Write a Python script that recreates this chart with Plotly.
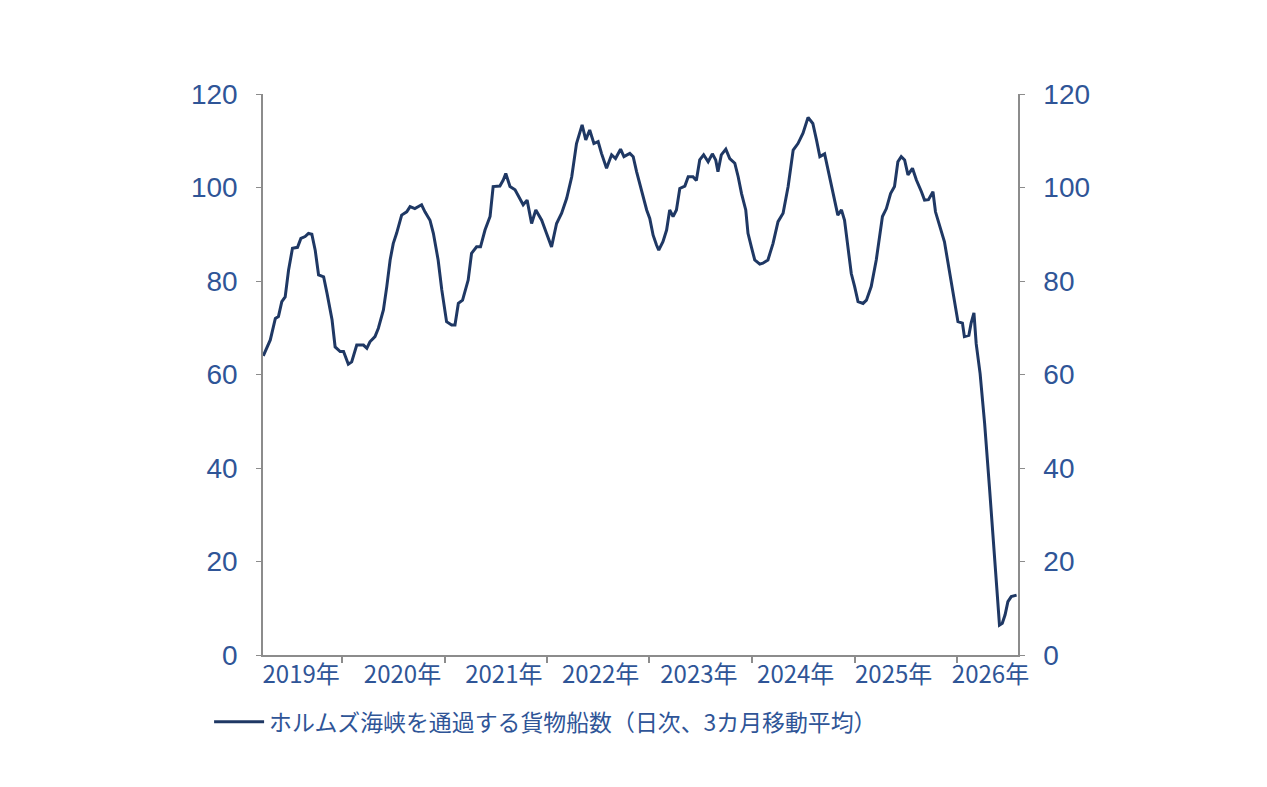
import plotly.graph_objects as go

# ホルムズ海峡を通過する貨物船数（日次、3カ月移動平均）
dates = [
    "2019-03-27", "2019-04-21", "2019-05-09", "2019-05-20", "2019-06-01", "2019-06-13",
    "2019-06-25", "2019-07-09", "2019-07-27", "2019-08-08", "2019-08-23", "2019-09-04",
    "2019-09-16", "2019-09-28", "2019-10-10", "2019-10-28", "2019-11-09", "2019-11-27",
    "2019-12-08", "2019-12-26", "2020-01-07", "2020-01-24", "2020-02-05", "2020-02-23",
    "2020-03-18", "2020-03-30", "2020-04-10", "2020-04-28", "2020-05-10", "2020-05-28",
    "2020-06-09", "2020-06-21", "2020-07-02", "2020-07-14", "2020-08-01", "2020-08-19",
    "2020-08-31", "2020-09-17", "2020-10-11", "2020-10-23", "2020-11-10", "2020-11-22",
    "2020-12-09", "2020-12-22", "2021-01-08", "2021-01-26", "2021-02-07", "2021-02-19",
    "2021-03-06", "2021-03-26", "2021-04-07", "2021-04-25", "2021-05-09", "2021-05-25",
    "2021-06-12", "2021-06-23", "2021-07-17", "2021-07-29", "2021-08-07", "2021-08-22",
    "2021-09-09", "2021-09-27", "2021-10-08", "2021-10-22", "2021-11-07", "2021-11-22",
    "2021-12-13", "2021-12-30", "2022-01-17", "2022-02-04", "2022-02-22", "2022-03-12",
    "2022-03-30", "2022-04-16", "2022-05-06", "2022-05-19", "2022-06-02", "2022-06-17",
    "2022-07-02", "2022-07-14", "2022-08-01", "2022-08-19", "2022-09-02", "2022-09-20",
    "2022-10-02", "2022-10-23", "2022-11-04", "2022-11-16", "2022-12-04", "2022-12-22",
    "2023-01-02", "2023-01-14", "2023-01-26", "2023-02-03", "2023-02-18", "2023-03-03",
    "2023-03-14", "2023-03-26", "2023-04-07", "2023-04-19", "2023-05-07", "2023-05-19",
    "2023-06-05", "2023-06-17", "2023-06-29", "2023-07-13", "2023-07-29", "2023-08-13",
    "2023-08-25", "2023-09-02", "2023-09-14", "2023-09-30", "2023-10-14", "2023-11-01",
    "2023-11-13", "2023-11-25", "2023-12-10", "2023-12-18", "2023-12-30", "2024-01-11",
    "2024-01-29", "2024-02-09", "2024-02-27", "2024-03-16", "2024-04-03", "2024-04-21",
    "2024-05-09", "2024-05-27", "2024-06-13", "2024-07-01", "2024-07-19", "2024-08-05",
    "2024-08-18", "2024-08-30", "2024-09-16", "2024-09-28", "2024-10-16", "2024-11-02",
    "2024-11-15", "2024-11-26", "2024-12-08", "2024-12-20", "2025-01-01", "2025-01-13",
    "2025-01-31", "2025-02-12", "2025-03-01", "2025-03-19", "2025-04-10", "2025-04-24",
    "2025-05-09", "2025-05-23", "2025-06-04", "2025-06-16", "2025-06-28", "2025-07-10",
    "2025-07-26", "2025-08-09", "2025-08-27", "2025-09-07", "2025-09-21", "2025-10-07",
    "2025-10-16", "2025-10-30", "2025-11-17", "2025-11-29", "2025-12-11", "2025-12-23",
    "2026-01-04", "2026-01-20", "2026-01-27", "2026-02-12", "2026-02-20", "2026-03-02",
    "2026-03-10", "2026-03-24", "2026-04-09", "2026-04-27", "2026-05-11", "2026-05-23",
    "2026-06-01", "2026-06-11", "2026-06-21", "2026-07-01", "2026-07-13", "2026-08-01",
]
ships = [
    64.0, 67.4, 72.0, 72.4, 75.6, 76.6,
    82.3, 87.0, 87.2, 89.1, 89.5, 90.2,
    90.0, 86.6, 81.3, 80.9, 77.4, 71.7,
    65.9, 64.9, 64.9, 62.2, 62.7, 66.3,
    66.3, 65.6, 67.0, 68.1, 69.9, 73.8,
    78.8, 84.5, 88.0, 90.2, 94.1, 94.8,
    95.9, 95.5, 96.3, 94.8, 93.0, 90.2,
    84.5, 78.1, 71.3, 70.6, 70.6, 75.2,
    75.9, 80.2, 85.9, 87.3, 87.3, 90.9,
    93.8, 100.2, 100.3, 101.6, 103.0, 100.2,
    99.5, 97.3, 96.3, 97.3, 92.3, 95.2,
    93.0, 90.2, 87.3, 92.3, 94.5, 97.7,
    102.3, 109.4, 113.4, 110.2, 112.3, 109.4,
    109.8, 107.3, 104.1, 107.0, 106.2, 108.2,
    106.6, 107.3, 106.6, 103.4, 99.0, 95.2,
    93.4, 89.8, 87.7, 86.6, 88.4, 90.9,
    95.2, 93.8, 95.2, 99.8, 100.3, 102.3,
    102.3, 101.5, 105.9, 107.0, 105.5, 107.2,
    105.9, 103.4, 107.0, 108.2, 106.2, 105.2,
    102.3, 98.7, 95.2, 90.2, 87.3, 84.5,
    83.6, 83.8, 84.5, 88.0, 92.7, 94.5,
    100.2, 108.0, 109.4, 111.6, 115.0, 113.7,
    110.2, 106.6, 107.2, 103.7, 98.4, 94.1,
    95.2, 93.0, 87.3, 81.6, 78.8, 75.6,
    75.2, 75.9, 78.8, 84.5, 93.8, 95.5,
    98.7, 100.2, 105.5, 106.6, 105.9, 102.7,
    104.1, 101.6, 99.1, 97.3, 97.4, 99.1,
    94.8, 92.0, 88.4, 84.1, 79.9, 76.3,
    71.3, 71.0, 68.1, 68.4, 71.0, 73.2,
    66.6, 60.2, 49.6, 35.3, 24.6, 13.9,
    6.4, 6.8, 8.6, 11.4, 12.5, 12.8,
]

# 年の区切り（目盛り）と年ラベル
year_ticks = ["2020-01-01", "2021-01-01", "2022-01-01", "2023-01-01",
              "2024-01-01", "2025-01-01", "2026-01-01"]
label_pos = ["2019-08-09", "2020-08-04", "2021-07-31", "2022-07-11",
             "2023-06-26", "2024-06-05", "2025-05-20", "2026-04-30"]
label_text = ["2019年", "2020年", "2021年", "2022年",
              "2023年", "2024年", "2025年", "2026年"]
y_ticks = [0, 20, 40, 60, 80, 100, 120]

x_range = ["2019-03-26", "2026-08-06"]
line_color = "#1f3864"
text_color = "#2f5597"
axis_color = "#8c8c8c"

fig = go.Figure()
fig.add_trace(go.Scatter(
    x=dates, y=ships, mode="lines",
    name="ホルムズ海峡を通過する貨物船数（日次、3カ月移動平均）",
    line=dict(color=line_color, width=3),
))
# 右軸用のダミー（凡例なし）
fig.add_trace(go.Scatter(
    x=[dates[0]], y=[ships[0]], mode="lines", yaxis="y2", xaxis="x2",
    showlegend=False, hoverinfo="skip", line=dict(color="rgba(0,0,0,0)"),
))

fig.update_layout(
    width=1267, height=787,
    margin=dict(l=255, r=257, t=86, b=140),
    paper_bgcolor="white", plot_bgcolor="white",
    font=dict(family="Noto Sans CJK JP", color=text_color),
    xaxis=dict(
        type="date", range=x_range,
        tickmode="array", tickvals=year_ticks, showticklabels=False,
        ticks="outside", ticklen=6, tickcolor=axis_color, tickwidth=1.5,
        showline=True, linecolor=axis_color, linewidth=2,
        showgrid=False, zeroline=False,
    ),
    xaxis2=dict(
        type="date", range=x_range, overlaying="x", side="bottom",
        tickmode="array", tickvals=label_pos, ticktext=label_text,
        ticks="", showline=False, showgrid=False, zeroline=False,
        tickfont=dict(family="Noto Sans CJK JP", size=24, color=text_color),
        ticklabelstandoff=3,
    ),
    yaxis=dict(
        range=[0, 120], tickmode="array", tickvals=y_ticks,
        ticks="outside", ticklen=5, tickcolor=axis_color,
        showline=True, linecolor=axis_color, linewidth=1.5,
        showgrid=False, zeroline=False,
        tickfont=dict(family="Liberation Sans", size=28, color=text_color),
        ticklabelstandoff=13,
    ),
    yaxis2=dict(
        range=[0, 120], overlaying="y", side="right", anchor="x",
        tickmode="array", tickvals=y_ticks,
        ticks="outside", ticklen=5, tickcolor=axis_color,
        showline=True, linecolor=axis_color, linewidth=1.5,
        showgrid=False, zeroline=False,
        tickfont=dict(family="Liberation Sans", size=28, color=text_color),
        ticklabelstandoff=13,
    ),
    showlegend=True,
    legend=dict(
        orientation="h", x=-0.0714, xanchor="left", y=-0.1194, yanchor="middle",
        itemwidth=50, bgcolor="rgba(0,0,0,0)",
        font=dict(family="Noto Sans CJK JP", size=22.9, color=text_color),
    ),
)

fig.write_html("out.html")
